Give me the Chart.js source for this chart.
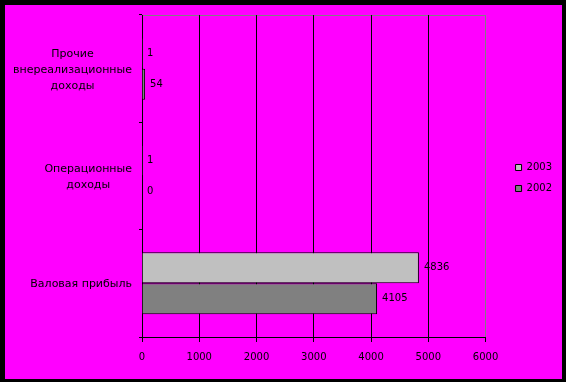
<!DOCTYPE html>
<html>
<head>
<meta charset="utf-8">
<script src="https://cdn.jsdelivr.net/npm/chart.js@4.4.0/dist/chart.umd.min.js"></script>
<style>
  html, body { margin: 0; padding: 0; background: #000; }
  #frame { position: absolute; left: 5px; top: 5px; width: 557px; height: 374px; background: #FF00FF; }
  canvas { display: block; }
</style>
</head>
<body>
<div id="frame"><canvas id="c" width="557" height="374"></canvas></div>
<script>
const categories = [
  ['Прочие', 'внереализационные', 'доходы'],
  ['Операционные', 'доходы'],
  'Валовая прибыль'
];
const seriesNames = ['2003', '2002'];
const values2003 = [1, 1, 4836];
const values2002 = [54, 0, 4105];
const xMin = 0;
const xMax = 6000;
const xStep = 1000;

const FONT = 'DejaVu Sans';

const valueLabels = {
  id: 'valueLabels',
  afterDatasetsDraw(chart) {
    const ctx = chart.ctx;
    ctx.save();
    ctx.font = '10px "' + FONT + '"';
    ctx.fillStyle = '#000';
    ctx.textAlign = 'left';
    ctx.textBaseline = 'middle';
    chart.data.datasets.forEach((ds, i) => {
      chart.getDatasetMeta(i).data.forEach((bar, j) => {
        ctx.fillText(String(ds.data[j]), bar.x + 5, bar.y);
      });
    });
    ctx.restore();
  }
};

// Category labels: each multi-line label centred on its own widest line,
// right edge next to the y axis (as in the reference).
const categoryLabels = {
  id: 'categoryLabels',
  afterDraw(chart) {
    const scale = chart.scales.y;
    const ctx = chart.ctx;
    const gap = scale.options.grid.tickLength + 7;
    const lineH = 16;
    ctx.save();
    ctx.font = '11px "' + FONT + '"';
    ctx.fillStyle = '#000';
    ctx.textAlign = 'center';
    ctx.textBaseline = 'middle';
    chart.data.labels.forEach((lab, i) => {
      const lines = Array.isArray(lab) ? lab : [lab];
      const w = Math.max(...lines.map(t => ctx.measureText(t).width));
      const cx = scale.right - gap - w / 2;
      const cy = scale.getPixelForTick(i) + 1;
      lines.forEach((t, k) => {
        ctx.fillText(t, cx, cy + (k - (lines.length - 1) / 2) * lineH);
      });
    });
    ctx.restore();
  }
};

const plotTopBorder = {
  id: 'plotTopBorder',
  beforeDraw(chart) {
    const { ctx, chartArea: a } = chart;
    ctx.save();
    ctx.strokeStyle = '#808080';
    ctx.lineWidth = 1;
    ctx.beginPath();
    const y = Math.round(a.top) + 0.5;
    ctx.moveTo(a.left, y);
    ctx.lineTo(a.right, y);
    ctx.stroke();
    ctx.restore();
  }
};

new Chart(document.getElementById('c'), {
  type: 'bar',
  data: {
    labels: categories,
    datasets: [
      {
        label: seriesNames[0],
        data: values2003,
        backgroundColor: '#C0C0C0',
        borderColor: '#000',
        borderWidth: { top: 1, right: 1, bottom: 1, left: 0 },
        borderSkipped: false,
        categoryPercentage: 0.578,
        barPercentage: 1
      },
      {
        label: seriesNames[1],
        data: values2002,
        backgroundColor: '#808080',
        borderColor: '#000',
        borderWidth: { top: 1, right: 1, bottom: 1, left: 0 },
        borderSkipped: false,
        categoryPercentage: 0.578,
        barPercentage: 1
      }
    ]
  },
  options: {
    indexAxis: 'y',
    responsive: false,
    animation: false,
    layout: { padding: { top: 10, left: 0, right: 0, bottom: 0 } },
    plugins: {
      tooltip: { enabled: false },
      legend: {
        position: 'right',
        fullSize: false,
        title: { display: true, text: '', padding: 0, font: { size: 4, lineHeight: 1 } },
        labels: {
          boxWidth: 6,
          boxHeight: 6,
          padding: 11,
          color: '#000',
          font: { family: FONT, size: 10 },
          generateLabels: (chart) =>
            Chart.defaults.plugins.legend.labels.generateLabels(chart)
              .map(l => Object.assign(l, { lineWidth: 1, strokeStyle: '#000' }))
        }
      }
    },
    scales: {
      x: {
        type: 'linear',
        min: xMin,
        max: xMax,
        ticks: {
          stepSize: xStep,
          color: '#000',
          padding: 9,
          font: { family: FONT, size: 10 },
          maxRotation: 0,
          callback: (v) => String(v)
        },
        grid: {
          color: (c) => (c.tick && c.tick.value === xMax) ? '#808080' : '#000',
          tickColor: '#000',
          tickLength: 5,
          lineWidth: 1
        },
        border: { color: '#000', width: 1 },
        afterFit(s) { s.height = 42; }
      },
      y: {
        type: 'category',
        offset: true,
        ticks: { display: false },
        grid: {
          offset: true,
          drawOnChartArea: false,
          drawTicks: true,
          tickLength: 3,
          color: '#000'
        },
        border: { color: '#000', width: 1 },
        afterFit(s) { s.width = 137; }
      },
      y2: {
        type: 'category',
        position: 'right',
        display: true,
        grid: { display: false, drawTicks: false },
        ticks: { display: false },
        border: { display: false },
        afterFit(s) { s.width = 19; }
      }
    }
  },
  plugins: [plotTopBorder, valueLabels, categoryLabels]
});
</script>
</body>
</html>
